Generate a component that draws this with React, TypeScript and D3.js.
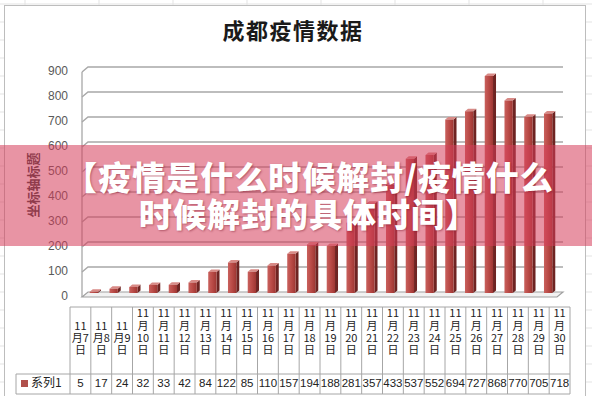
import React from "react";
import * as d3 from "d3";

const W = 592;
const H = 396;

// chart data
const title = "成都疫情数据";
const axisTitle = "坐标轴标题";
const seriesName = "系列1";
const month = "11";
const days = ["7", "8", "9", "10", "11", "12", "13", "14", "15", "16", "17", "18", "19", "20", "21", "22", "23", "24", "25", "26", "27", "28", "29", "30"];
const values = [5, 17, 24, 32, 33, 42, 84, 122, 85, 110, 157, 194, 188, 281, 357, 433, 537, 552, 694, 727, 868, 770, 705, 718];
const yTicks = [0, 100, 200, 300, 400, 500, 600, 700, 800, 900];
const bannerLines = ["【疫情是什么时候解封/疫情什么", "时候解封的具体时间】"];

const CJK = "'Noto Sans CJK SC', 'Noto Sans', sans-serif";
const NUM = "'Liberation Sans', Arial, sans-serif";

export default function App() {
  // 3D-ish wall: front edge (labels) and back edge (gridlines)
  const depthX = 6;
  const wallLeft = 82;
  const wallRight = 563;

  const yFront = d3.scaleLinear().domain([0, 900]).range([297, 72]);
  const yBack = d3.scaleLinear().domain([0, 900]).range([292, 67]);
  const yBar = d3.scaleLinear().domain([0, 900]).range([293, 68]);

  const x = d3.scaleBand<string>().domain(days).range([84, 558]).paddingInner(0.58).paddingOuter(0.29);
  const xTable = d3.scaleBand<string>().domain(days).range([70, 570]);

  const bw = x.bandwidth();
  const d = 3;

  // excel background grid
  const bgV = d3.range(25, W, 74);
  const bgH = d3.range(4, H, 18);

  const tableTop = 307;
  const rowMid = 374;
  const tableBottom = 394;
  const lineColor = "#a6a6a6";

  return (
    <svg width={W} height={H} style={{ position: "fixed", left: 0, top: 0, background: "#fff" }}>
      <defs>
        <linearGradient id="barFront" x1="0" x2="1" y1="0" y2="0">
          <stop offset="0%" stopColor="#c9615d" />
          <stop offset="50%" stopColor="#b94a46" />
          <stop offset="100%" stopColor="#9e3733" />
        </linearGradient>
      </defs>

      {/* spreadsheet grid outside the chart */}
      {bgV.map((v) => (
        <line key={"bv" + v} x1={v} x2={v} y1={0} y2={H} stroke="#e3e3e3" />
      ))}
      {bgH.map((v) => (
        <line key={"bh" + v} x1={0} x2={W} y1={v} y2={v} stroke="#e3e3e3" />
      ))}
      <rect x={4.5} y={5.5} width={581} height={H + 10} fill="#fff" stroke="#bdbdbd" />

      {/* title */}
      <text x={293} y={33} textAnchor="middle" dominantBaseline="middle" fontFamily={CJK} fontSize={22} fontWeight={700} letterSpacing={1.5} fill="#1a1a1a">
        {title}
      </text>

      {/* floor */}
      <polygon
        points={[
          [wallLeft, yFront(0)],
          [wallLeft + depthX, yBack(0)],
          [wallRight, yBack(0)],
          [wallRight - depthX, yFront(0)],
        ].map((p) => p.join(",")).join(" ")}
        fill="#f2f2f2"
        stroke="#a0a0a0"
        strokeWidth={1.2}
      />
      {/* left wall */}
      <line x1={wallLeft} x2={wallLeft} y1={yFront(900)} y2={yFront(0)} stroke="#a0a0a0" strokeWidth={1.2} />

      {/* gridlines */}
      {yTicks.slice(1).map((t) => (
        <polyline
          key={"g" + t}
          points={`${wallLeft},${yFront(t)} ${wallLeft + depthX},${yBack(t)} ${wallRight},${yBack(t)}`}
          fill="none"
          stroke="#a8a8a8"
          strokeWidth={1.4}
        />
      ))}

      {/* y labels */}
      {yTicks.map((t) => (
        <text key={"yl" + t} x={68} y={yFront(t)} textAnchor="end" dominantBaseline="middle" fontFamily={NUM} fontSize={12} fill="#595959">
          {t}
        </text>
      ))}
      <text
        transform={`translate(34,185) rotate(-90)`}
        textAnchor="middle"
        dominantBaseline="middle"
        fontFamily={CJK}
        fontSize={13}
        fontWeight={700}
        fill="#3a3a3a"
      >
        {axisTitle}
      </text>

      {/* bars */}
      {values.map((v, i) => {
        const bx = x(days[i]) as number;
        const top = yBar(v);
        const base = yBar(0);
        return (
          <g key={"b" + i}>
            <polygon
              points={`${bx + bw},${top} ${bx + bw + d},${top - d * 0.8} ${bx + bw + d},${base - d * 0.8} ${bx + bw},${base}`}
              fill="#6e2422"
            />
            <polygon
              points={`${bx},${top} ${bx + d},${top - d * 0.8} ${bx + bw + d},${top - d * 0.8} ${bx + bw},${top}`}
              fill="#d88a86"
            />
            <rect x={bx} y={top} width={bw} height={base - top} fill="url(#barFront)" />
          </g>
        );
      })}

      {/* data table */}
      <line x1={70} x2={570} y1={tableTop} y2={tableTop} stroke={lineColor} />
      <line x1={16} x2={570} y1={rowMid} y2={rowMid} stroke={lineColor} />
      <line x1={16} x2={570} y1={tableBottom} y2={tableBottom} stroke={lineColor} />
      <line x1={16} x2={16} y1={rowMid} y2={tableBottom} stroke={lineColor} />
      {days.map((dd) => (
        <line key={"tv" + dd} x1={xTable(dd) as number} x2={xTable(dd) as number} y1={tableTop} y2={tableBottom} stroke={lineColor} />
      ))}
      <line x1={570} x2={570} y1={tableTop} y2={tableBottom} stroke={lineColor} />

      {days.map((dd) => {
        const cx = (xTable(dd) as number) + xTable.bandwidth() / 2;
        const lines = dd.length === 1 ? [month, "月" + dd, "日"] : [month, "月", dd, "日"];
        return (
          <text key={"th" + dd} textAnchor="middle" dominantBaseline="middle" fontFamily={CJK} fontSize={11} fill="#222">
            {lines.map((s, j) => (
              <tspan key={j} x={cx} y={351 - (lines.length - 1 - j) * 12.2}>
                {s}
              </tspan>
            ))}
          </text>
        );
      })}

      <rect x={21} y={380} width={7} height={7} fill="#b0504c" />
      <text x={31} y={384} dominantBaseline="middle" fontFamily={CJK} fontSize={12} fill="#222">
        {seriesName}
      </text>
      {values.map((v, i) => (
        <text
          key={"tv" + i}
          x={(xTable(days[i]) as number) + xTable.bandwidth() / 2}
          y={384}
          textAnchor="middle"
          dominantBaseline="middle"
          fontFamily={NUM}
          fontSize={11.5}
          fill="#222"
        >
          {v}
        </text>
      ))}

      {/* overlay banner */}
      <rect x={0} y={145} width={W} height={101} fill="rgba(214,60,90,0.55)" />
      <text
        textAnchor="middle"
        dominantBaseline="middle"
        fontFamily={CJK}
        fontSize={33}
        fontWeight={900}
        letterSpacing={1}
        fill="#fff"
        style={{ textShadow: "1px 1px 2px rgba(120,20,40,0.45)" }}
      >
        {bannerLines.map((s, i) => (
          <tspan key={"bn" + i} x={309} y={181 + i * 37}>
            {s}
          </tspan>
        ))}
      </text>
    </svg>
  );
}
